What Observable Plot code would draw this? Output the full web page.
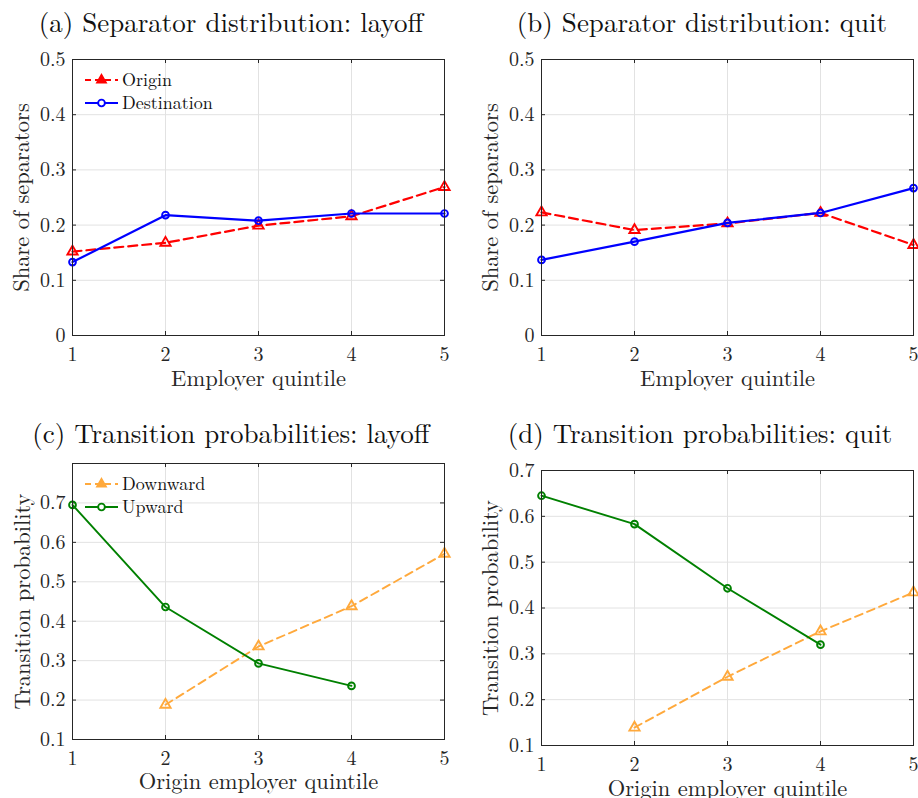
<!DOCTYPE html>
<html>
<head>
<meta charset="utf-8">
<script src="https://cdn.jsdelivr.net/npm/d3@7"></script>
<script src="https://cdn.jsdelivr.net/npm/@observablehq/plot@0.6"></script>
<style>
  body { margin: 0; background: #fff; }
  #fig { position: relative; width: 918px; height: 798px; overflow: hidden; background: #fff; }
  #fig > svg { position: absolute; }
  .overlay { left: 0; top: 0; pointer-events: none; }
</style>
</head>
<body>
<div id="fig"></div>
<script>
// Employer quintiles on the x axis
const quintiles = [1, 2, 3, 4, 5];

// Share of separators by employer quintile
const layoffOrigin      = [0.152, 0.168, 0.199, 0.216, 0.269];
const layoffDestination = [0.133, 0.218, 0.208, 0.221, 0.221];
const quitOrigin        = [0.223, 0.191, 0.203, 0.222, 0.164];
const quitDestination   = [0.137, 0.170, 0.204, 0.222, 0.267];

// Transition probabilities by origin employer quintile (null = not defined)
const layoffDownward = [null, 0.188, 0.336, 0.438, 0.571];
const layoffUpward   = [0.695, 0.436, 0.293, 0.236, null];
const quitDownward   = [null, 0.139, 0.250, 0.349, 0.434];
const quitUpward     = [0.645, 0.583, 0.443, 0.320, null];

// Axis ticks
const shareTicks = [0, 0.1, 0.2, 0.3, 0.4, 0.5];
const probTicksC = [0.1, 0.2, 0.3, 0.4, 0.5, 0.6, 0.7];
const probTicksD = [0.1, 0.2, 0.3, 0.4, 0.5, 0.6, 0.7];

// Text
const titles = [
  "(a) Separator distribution: layoff",
  "(b) Separator distribution: quit",
  "(c) Transition probabilities: layoff",
  "(d) Transition probabilities: quit"
];
const xLabels = ["Employer quintile", "Employer quintile", "Origin employer quintile", "Origin employer quintile"];
const yLabels = ["Share of separators", "Share of separators", "Transition probability", "Transition probability"];
const shareSeriesNames = ["Origin", "Destination"];
const probSeriesNames = ["Downward", "Upward"];

const FONT = '"Latin Modern Roman", "Liberation Serif", serif';
const INK = "#262626";
const GRID = "#e2e2e2";

const shareStyles = [
  {color: "#ff0000", symbol: "triangle", dash: "9,5", width: 2.2},
  {color: "#0000ff", symbol: "circle", dash: null, width: 2.2}
];
const probStyles = [
  {color: "#ffa93c", symbol: "triangle", dash: "8,5", width: 1.9},
  {color: "#008000", symbol: "circle", dash: null, width: 1.9}
];

function rows(values) {
  return quintiles.map((q, i) => ({q, v: values[i]})).filter(d => d.v != null);
}

const panels = [
  {left: 0,   top: 45,  h: 345, ml: 72, mr: 15, mt: 14, mb: 55, yDomain: [0, 0.5], yTicks: shareTicks,
   series: [layoffOrigin, layoffDestination], names: shareSeriesNames, styles: shareStyles,
   title: titles[0], titleX: 231, titleY: 32, xLabel: xLabels[0], yLabel: yLabels[0], xdy: 43, ydx: -51,
   legend: {x: 85, y: 80}},
  {left: 459, top: 45,  h: 345, ml: 82, mr: 5,  mt: 14, mb: 55, yDomain: [0, 0.5], yTicks: shareTicks,
   series: [quitOrigin, quitDestination], names: null, styles: shareStyles,
   title: titles[1], titleX: 702, titleY: 32, xLabel: xLabels[1], yLabel: yLabels[1], xdy: 43, ydx: -51},
  {left: 0,   top: 448, h: 350, ml: 72, mr: 15, mt: 15, mb: 59, yDomain: [0.1, 0.8], yTicks: probTicksC,
   series: [layoffDownward, layoffUpward], names: probSeriesNames, styles: probStyles,
   title: titles[2], titleX: 231, titleY: 443, xLabel: xLabels[2], yLabel: yLabels[2], xdy: 42, ydx: -50,
   legend: {x: 85, y: 484}},
  {left: 459, top: 455, h: 343, ml: 82, mr: 5,  mt: 15, mb: 53, yDomain: [0.1, 0.7], yTicks: probTicksD,
   series: [quitDownward, quitUpward], names: null, styles: probStyles,
   title: titles[3], titleX: 700, titleY: 443, xLabel: xLabels[3], yLabel: yLabels[3], xdy: 43, ydx: -50.5}
];

const fig = document.getElementById("fig");
const W = 459;

for (const p of panels) {
  const innerW = W - p.ml - p.mr;
  const innerH = p.h - p.mt - p.mb;
  const marks = [
    Plot.gridX(quintiles, {stroke: GRID, strokeOpacity: 1}),
    Plot.gridY(p.yTicks, {stroke: GRID, strokeOpacity: 1}),
    // inward tick marks on all four sides
    Plot.tickX(quintiles, {x: d => d, insetTop: innerH - 4, stroke: INK}),
    Plot.tickX(quintiles, {x: d => d, insetBottom: innerH - 4, stroke: INK}),
    Plot.tickY(p.yTicks, {y: d => d, insetRight: innerW - 4, stroke: INK}),
    Plot.tickY(p.yTicks, {y: d => d, insetLeft: innerW - 4, stroke: INK}),
    Plot.axisX(quintiles, {tickSize: 0, tickPadding: 11, label: null, tickFormat: d => String(d), fill: INK, fontSize: 20}),
    Plot.axisY(p.yTicks, {tickSize: 0, tickPadding: 7, label: null, tickFormat: d => String(d), fill: INK, fontSize: 20}),
    Plot.text([p.xLabel], {frameAnchor: "bottom", lineAnchor: "middle", textAnchor: "middle",
      dy: p.xdy, fontSize: 22.5, fill: INK, text: d => d}),
    Plot.text([p.yLabel], {frameAnchor: "left", lineAnchor: "middle", textAnchor: "middle",
      dx: p.ydx, rotate: -90, fontSize: 22.5, fill: INK, text: d => d})
  ];
  p.series.forEach((vals, i) => {
    const s = p.styles[i];
    const data = rows(vals);
    marks.push(Plot.line(data, {x: "q", y: "v", stroke: s.color, strokeWidth: s.width, strokeDasharray: s.dash}));
    marks.push(Plot.dot(data, {x: "q", y: "v", symbol: s.symbol, r: s.symbol === "circle" ? 3.4 : 3.8,
      stroke: s.color, strokeWidth: 1.9, fill: "none"}));
  });
  marks.push(Plot.frame({stroke: INK, strokeWidth: 1}));

  const chart = Plot.plot({
    width: W, height: p.h,
    marginLeft: p.ml, marginRight: p.mr, marginTop: p.mt, marginBottom: p.mb,
    x: {domain: [1, 5]},
    y: {domain: p.yDomain},
    style: {background: "transparent", fontFamily: FONT, fontSize: "20px", color: INK, overflow: "visible"},
    marks
  });
  chart.style.position = "absolute";
  chart.style.left = p.left + "px";
  chart.style.top = p.top + "px";
  fig.appendChild(chart);
}

// Titles and legends drawn on top
const overlay = d3.select(fig).append("svg")
  .attr("class", "overlay").attr("width", 918).attr("height", 798)
  .style("font-family", FONT);

for (const p of panels) {
  overlay.append("text")
    .attr("x", p.titleX).attr("y", p.titleY)
    .attr("text-anchor", "middle")
    .style("font-family", FONT)
    .attr("font-size", 27)
    .attr("fill", "#111")
    .text(p.title);

  if (p.names) {
    p.names.forEach((name, i) => {
      const s = p.styles[i];
      const y = p.legend.y + i * 23;
      const g = overlay.append("g");
      g.append("line")
        .attr("x1", p.legend.x).attr("x2", p.legend.x + 33).attr("y1", y).attr("y2", y)
        .attr("stroke", s.color).attr("stroke-width", s.width)
        .attr("stroke-dasharray", s.dash ? "6,4" : null);
      const cx = p.legend.x + 16.5;
      if (s.symbol === "triangle") {
        g.append("path")
          .attr("d", d3.symbol(d3.symbolTriangle, 38)())
          .attr("transform", `translate(${cx},${y})`)
          .attr("fill", s.color).attr("stroke", s.color).attr("stroke-width", 1.5);
      } else {
        g.append("circle").attr("cx", cx).attr("cy", y).attr("r", 3.4)
          .attr("fill", "#fff").attr("stroke", s.color).attr("stroke-width", 1.9);
      }
      g.append("text")
        .attr("x", p.legend.x + 37).attr("y", y)
        .attr("dy", "0.33em")
        .style("font-family", FONT)
        .attr("font-size", 18)
        .attr("fill", "#111")
        .text(name);
    });
  }
}
</script>
</body>
</html>
